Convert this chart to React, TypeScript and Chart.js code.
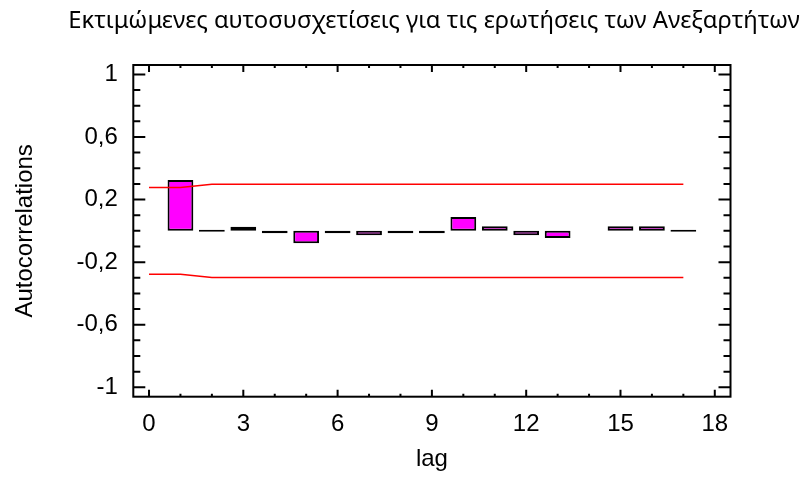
import React, { useEffect, useRef } from "react";
import { Chart, registerables } from "chart.js";

Chart.register(...registerables);

// ---- data ----
const lags = [1, 2, 3, 4, 5, 6, 7, 8, 9, 10, 11, 12, 13, 14, 15, 16, 17];
const autocorrelations: (number | null)[] = [
  0.325, 0, 0.026, -0.015, -0.08, -0.015, -0.028, -0.015, -0.015, 0.088, 0.03, -0.028, -0.045, null, 0.03, 0.03, 0,
];
const limitLags = [0, 1, 2, 3, 4, 5, 6, 7, 8, 9, 10, 11, 12, 13, 14, 15, 16, 17];
const upperLimits = [
  0.277, 0.277, 0.298, 0.298, 0.298, 0.298, 0.298, 0.298, 0.298, 0.298, 0.298, 0.298, 0.298, 0.298, 0.298, 0.298, 0.298, 0.298,
];
const lowerLimits = [
  -0.277, -0.277, -0.298, -0.298, -0.298, -0.298, -0.298, -0.298, -0.298, -0.298, -0.298, -0.298, -0.298, -0.298, -0.298, -0.298, -0.298, -0.298,
];
const xTickValues = [0, 3, 6, 9, 12, 15, 18];
const xMinorTickValues = [0, 1, 2, 3, 4, 5, 6, 7, 8, 9, 10, 11, 12, 13, 14, 15, 16, 17, 18];
const yTickValues = [-1, -0.6, -0.2, 0.2, 0.6, 1];
const yMinorTickValues = [
  -1, -0.9, -0.8, -0.7, -0.6, -0.5, -0.4, -0.3, -0.2, -0.1, 0, 0.1, 0.2, 0.3, 0.4, 0.5, 0.6, 0.7, 0.8, 0.9, 1,
];

const titleText = "Εκτιμώμενες αυτοσυσχετίσεις για τις ερωτήσεις των Ανεξαρτήτων";
const xTitle = "lag";
const yTitle = "Autocorrelations";

const axisFont = { family: "'Liberation Sans', Arial, sans-serif", size: 24 };

const isMajor = (v: number, majors: number[]) => majors.some((m) => Math.abs(m - v) < 1e-9);

const framePlugin = {
  id: "frameTicks",
  afterDraw(chart: any) {
    const { ctx, chartArea, scales } = chart;
    const { left, right, top, bottom } = chartArea;
    const x = scales.x;
    const y = scales.y;
    ctx.save();
    ctx.strokeStyle = "#000";
    ctx.lineWidth = 2;
    ctx.strokeRect(left, top, right - left, bottom - top);
    ctx.beginPath();
    xMinorTickValues.forEach((v) => {
      const px = x.getPixelForValue(v);
      const len = isMajor(v, xTickValues) ? 7 : 3;
      ctx.moveTo(px, bottom);
      ctx.lineTo(px, bottom - len);
      ctx.moveTo(px, top);
      ctx.lineTo(px, top + len);
    });
    yMinorTickValues.forEach((v) => {
      const py = y.getPixelForValue(v);
      const len = isMajor(v, yTickValues) ? 12 : 7;
      ctx.moveTo(left, py);
      ctx.lineTo(left + len, py);
      ctx.moveTo(right, py);
      ctx.lineTo(right - len, py);
    });
    ctx.stroke();
    ctx.restore();
  },
};

export default function App() {
  const canvasRef = useRef<HTMLCanvasElement | null>(null);

  useEffect(() => {
    const canvas = canvasRef.current;
    if (!canvas) return;
    const chart = new Chart(canvas, {
      type: "bar",
      data: {
        datasets: [
          {
            type: "line",
            data: limitLags.map((l, i) => ({ x: l, y: upperLimits[i] })),
            borderColor: "#FF0000",
            borderWidth: 1.6,
            pointRadius: 0,
            tension: 0,
            order: 0,
          },
          {
            type: "line",
            data: limitLags.map((l, i) => ({ x: l, y: lowerLimits[i] })),
            borderColor: "#FF0000",
            borderWidth: 1.6,
            pointRadius: 0,
            tension: 0,
            order: 0,
          },
          {
            type: "bar",
            data: lags.map((l, i) => ({ x: l, y: autocorrelations[i] })),
            backgroundColor: "#FF00FF",
            borderColor: "#000000",
            borderWidth: 2,
            borderSkipped: false,
            barPercentage: 0.82,
            categoryPercentage: 1,
            minBarLength: 2,
            order: 1,
          } as any,
        ],
      },
      options: {
        animation: false,
        responsive: false,
        maintainAspectRatio: false,
        layout: { padding: { left: 57, right: 0, top: 0, bottom: 0 } },
        plugins: {
          legend: { display: false },
          tooltip: { enabled: false },
          title: {
            display: true,
            text: titleText,
            align: "center",
            color: "#000",
            font: { family: "'Noto Sans', 'Open Sans', sans-serif", size: 23.8, weight: "normal", lineHeight: 1.2 },
            padding: { top: 7.3, bottom: 29.14 },
          },
        },
        scales: {
          x: {
            type: "linear",
            min: -0.5,
            max: 18.5,
            offset: false,
            grid: { display: false, drawTicks: false, offset: false },
            border: { display: false },
            afterBuildTicks: (scale: any) => {
              scale.ticks = xTickValues.map((v) => ({ value: v }));
            },
            afterFit: (scale: any) => {
              scale.height = 80.3;
            },
            ticks: {
              color: "#000",
              font: axisFont,
              padding: 12.9,
              autoSkip: false,
              maxRotation: 0,
              callback: (v: any) => String(v),
            },
            title: {
              display: true,
              text: xTitle,
              color: "#000",
              font: { ...axisFont, lineHeight: 1.2 },
              padding: { top: 0, bottom: 3.4 },
            },
          },
          y: {
            type: "linear",
            position: "left",
            min: -1.06,
            max: 1.06,
            grid: { display: false, drawTicks: false },
            border: { display: false },
            afterBuildTicks: (scale: any) => {
              scale.ticks = yTickValues.map((v) => ({ value: v }));
            },
            afterFit: (scale: any) => {
              scale.width = 133.3 - 57;
            },
            ticks: {
              color: "#000",
              font: axisFont,
              padding: 15.5,
              autoSkip: false,
              callback: (v: any) => String(v).replace(".", ","),
            },
            title: {
              display: true,
              text: yTitle,
              color: "#000",
              font: { ...axisFont, lineHeight: 1.2 },
              padding: { top: 10.6 - 57, bottom: 0 },
            },
          },
          yRight: {
            type: "linear",
            position: "right",
            min: -1.06,
            max: 1.06,
            grid: { display: false, drawTicks: false },
            border: { display: false },
            ticks: { display: false },
            afterFit: (scale: any) => {
              scale.width = 80.5;
            },
          },
        },
      } as any,
      plugins: [framePlugin],
    });
    return () => chart.destroy();
  }, []);

  return (
    <div style={{ position: "absolute", left: 0, top: 0, width: 811, height: 477, background: "#fff" }}>
      <canvas ref={canvasRef} width={811} height={477} style={{ display: "block" }} />
    </div>
  );
}
